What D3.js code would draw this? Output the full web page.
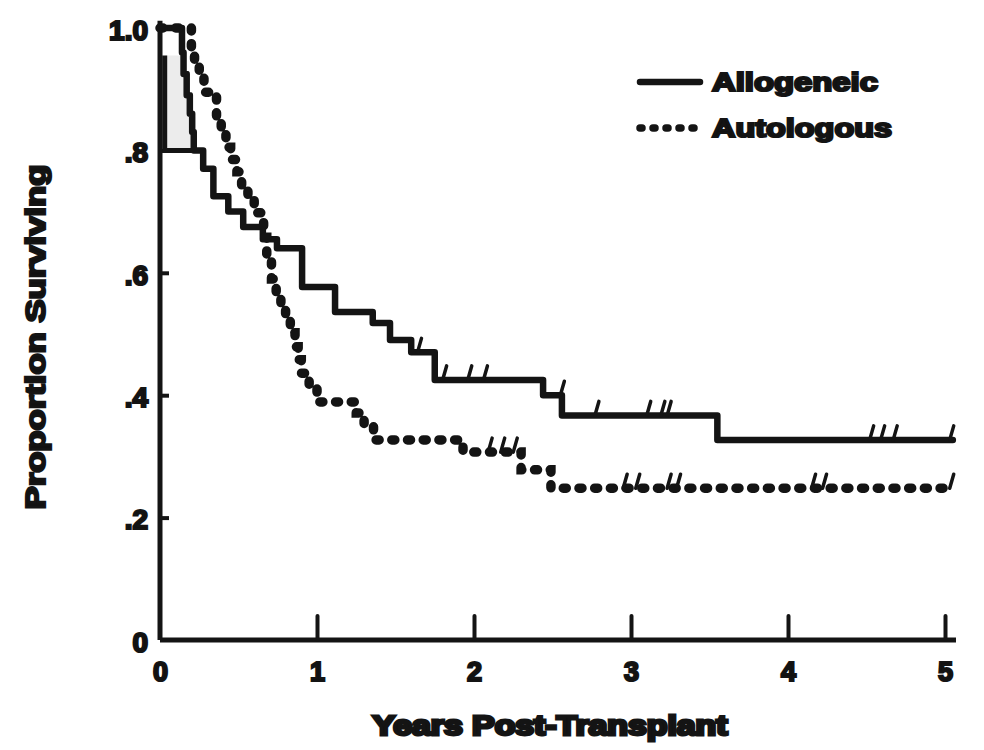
<!DOCTYPE html>
<html>
<head>
<meta charset="utf-8">
<script src="https://cdn.jsdelivr.net/npm/d3@7"></script>
<style>
  html, body { margin: 0; padding: 0; background: #fff; }
  svg { display: block; }
  text { font-family: "Liberation Sans", Arial, sans-serif; font-weight: bold; fill: #111; }
</style>
</head>
<body>
<svg id="chart" width="984" height="750"></svg>
<script>
// ---- data ----
const xTicks = [0, 1, 2, 3, 4, 5];
const xTickLabels = ["0", "1", "2", "3", "4", "5"];
const yTicks = [0, 0.2, 0.4, 0.6, 0.8, 1.0];
const yTickLabels = ["0", ".2", ".4", ".6", ".8", "1.0"];

const seriesNames = ["Allogeneic", "Autologous"];

// Allogeneic (solid) step curve: event times (years) and survival after each step
const alloTimes = [0, 0.14, 0.15, 0.17, 0.19, 0.205, 0.215, 0.275, 0.34, 0.435, 0.53, 0.655, 0.745, 0.905, 1.115, 1.355, 1.465, 1.60, 1.75, 2.44, 2.56, 3.55];
const alloSurv  = [1.0, 0.96, 0.925, 0.89, 0.86, 0.83, 0.80, 0.77, 0.725, 0.70, 0.675, 0.655, 0.64, 0.577, 0.536, 0.518, 0.49, 0.47, 0.425, 0.40, 0.367, 0.327];
const alloEnd = 5.05;
const alloCensor = [1.64, 1.80, 1.96, 2.06, 2.55, 2.77, 3.10, 3.19, 3.23, 4.52, 4.59, 4.67, 5.03];
// early bracket drawn in the original (vertical drop near t=0 to .8)
const alloBracketT = [0.03, 0.03, 0.275];
const alloBracketS = [0.955, 0.80, 0.80];

// Autologous (dotted) step curve
const autoTimes = [0, 0.20, 0.22, 0.25, 0.28, 0.36, 0.39, 0.42, 0.45, 0.49, 0.52, 0.56, 0.60, 0.66, 0.68, 0.71, 0.74, 0.77, 0.80, 0.83, 0.86, 0.88, 0.90, 0.95, 1.00, 1.25, 1.30, 1.36, 1.93, 2.30, 2.49];
const autoSurv  = [1.0, 0.965, 0.945, 0.92, 0.895, 0.855, 0.83, 0.805, 0.785, 0.765, 0.743, 0.72, 0.698, 0.658, 0.624, 0.59, 0.564, 0.54, 0.528, 0.502, 0.479, 0.458, 0.436, 0.412, 0.389, 0.371, 0.351, 0.327, 0.307, 0.278, 0.248];
const autoEnd = 5.05;
const autoCensor = [2.09, 2.17, 2.25, 2.95, 3.03, 3.23, 3.29, 4.15, 4.22, 5.03];

// ---- drawing ----
const svg = d3.select("#chart");
const ink = "#141414";
const FONT = "'Liberation Sans', Arial, sans-serif";

const x = d3.scaleLinear().domain([0, 5]).range([160, 945]);
const y = d3.scaleLinear().domain([0, 1]).range([640, 28]);

// axes
const xAxis = d3.axisBottom(x)
  .tickValues(xTicks)
  .tickFormat((d, i) => xTickLabels[i])
  .tickSizeInner(-24).tickSizeOuter(0).tickPadding(22);
const gx = svg.append("g").attr("transform", `translate(0,${y(0)})`).call(xAxis);
gx.select(".domain").attr("d", `M${x(0)},0H${x(5.07)}`).attr("stroke", ink).attr("stroke-width", 5);
gx.selectAll(".tick line").attr("stroke", ink).attr("stroke-width", 4).attr("stroke-linecap", "round");
gx.selectAll(".tick").filter(d => d === 0).select("line").remove();
gx.selectAll(".tick text").attr("font-size", 27).attr("fill", ink).attr("stroke", ink).attr("stroke-width", 2.2)
  .attr("font-family", FONT).attr("font-weight", "bold");

const yAxis = d3.axisLeft(y)
  .tickValues(yTicks)
  .tickFormat((d, i) => yTickLabels[i])
  .tickSizeInner(-9).tickSizeOuter(0).tickPadding(12);
const gy = svg.append("g").attr("transform", `translate(${x(0)},0)`).call(yAxis);
gy.select(".domain").attr("d", `M0,${y(1.012)}V${y(0)}`).attr("stroke", ink).attr("stroke-width", 5);
gy.selectAll(".tick line").attr("stroke", ink).attr("stroke-width", 4);
gy.selectAll(".tick").filter(d => d === 0 || d === 1).select("line").remove();
gy.selectAll(".tick text").attr("font-size", 28).attr("fill", ink).attr("stroke", ink).attr("stroke-width", 2.2)
  .attr("font-family", FONT).attr("font-weight", "bold")
  .attr("dy", "0.4em");

// step path helper
const stepLine = d3.line().x(d => x(d[0])).y(d => y(d[1])).curve(d3.curveStepAfter);
function stepPoints(times, surv, end) {
  const pts = times.map((t, i) => [t, surv[i]]);
  pts.push([end, surv[surv.length - 1]]);
  return pts;
}
function survAt(times, surv, t) {
  let v = surv[0];
  for (let i = 0; i < times.length; i++) if (times[i] <= t) v = surv[i];
  return v;
}

// light shading of the early region between bracket and the allogeneic steps
const shadePts = [];
alloTimes.forEach((t, i) => { if (t > 0 && alloSurv[i] >= 0.80 && alloSurv[i] <= 0.96) shadePts.push([t, alloSurv[i]]); });
svg.append("path")
  .datum([[alloBracketT[0], alloBracketS[0]]].concat(shadePts).concat([[alloBracketT[0], alloBracketS[1]]]))
  .attr("d", stepLine)
  .attr("fill", "#ececec").attr("stroke", "none");

// allogeneic bracket
svg.append("path")
  .datum(alloBracketT.map((t, i) => [t, alloBracketS[i]]))
  .attr("d", d3.line().x(d => x(d[0])).y(d => y(d[1])))
  .attr("fill", "none").attr("stroke", ink).attr("stroke-width", 5);

// allogeneic solid
svg.append("path")
  .datum(stepPoints(alloTimes, alloSurv, alloEnd))
  .attr("d", stepLine)
  .attr("fill", "none").attr("stroke", ink).attr("stroke-width", 6.5)
  .attr("stroke-linejoin", "round").attr("stroke-linecap", "round");

// autologous dotted
svg.append("path")
  .datum(stepPoints(autoTimes, autoSurv, autoEnd))
  .attr("d", stepLine)
  .attr("fill", "none").attr("stroke", ink).attr("stroke-width", 9.5)
  .attr("stroke-dasharray", "3,12.7").attr("stroke-linecap", "round");

// censor marks
function drawCensor(times, surv, cens, h) {
  svg.append("g").selectAll("line").data(cens).join("line")
    .attr("x1", d => x(d)).attr("y1", d => y(survAt(times, surv, d)))
    .attr("x2", d => x(d) + 4).attr("y2", d => y(survAt(times, surv, d)) - h)
    .attr("stroke", ink).attr("stroke-width", 3.5).attr("stroke-linecap", "round");
}
drawCensor(alloTimes, alloSurv, alloCensor, 14);
drawCensor(autoTimes, autoSurv, autoCensor, 14);

// legend
const leg = svg.append("g");
leg.append("line").attr("x1", 640).attr("x2", 700).attr("y1", 82).attr("y2", 82)
  .attr("stroke", ink).attr("stroke-width", 6.5).attr("stroke-linecap", "round");
leg.append("line").attr("x1", 640).attr("x2", 700).attr("y1", 128).attr("y2", 128)
  .attr("stroke", ink).attr("stroke-width", 7.5).attr("stroke-dasharray", "2,11").attr("stroke-linecap", "round");
leg.append("text").attr("x", 712).attr("y", 91).attr("font-size", 25)
  .attr("stroke", ink).attr("stroke-width", 2.2)
  .attr("textLength", 166).attr("lengthAdjust", "spacingAndGlyphs").text(seriesNames[0]);
leg.append("text").attr("x", 712).attr("y", 137).attr("font-size", 25)
  .attr("stroke", ink).attr("stroke-width", 2.2)
  .attr("textLength", 180).attr("lengthAdjust", "spacingAndGlyphs").text(seriesNames[1]);

// axis titles
svg.append("text").attr("transform", "translate(45,337) rotate(-90)")
  .attr("text-anchor", "middle").attr("font-size", 27)
  .attr("stroke", ink).attr("stroke-width", 2.2)
  .attr("textLength", 345).attr("lengthAdjust", "spacingAndGlyphs")
  .text("Proportion Surviving");
svg.append("text").attr("x", 550).attr("y", 735)
  .attr("text-anchor", "middle").attr("font-size", 27)
  .attr("stroke", ink).attr("stroke-width", 3)
  .attr("textLength", 355).attr("lengthAdjust", "spacingAndGlyphs")
  .text("Years Post-Transplant");
</script>
</body>
</html>
